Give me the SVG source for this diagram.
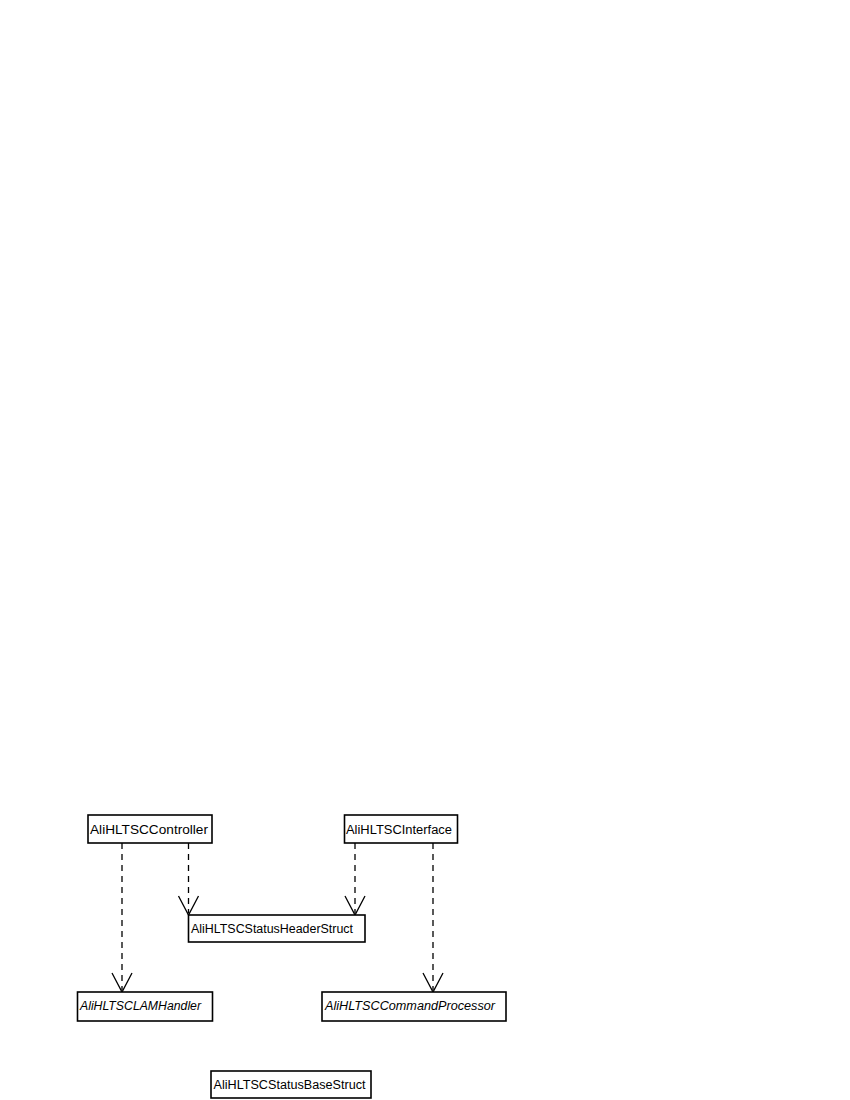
<svg xmlns="http://www.w3.org/2000/svg" width="850" height="1100" viewBox="0 0 850 1100">
<style>
.box{fill:#fff;stroke:#000;stroke-width:1.6}
.t{font-family:"Liberation Sans",Arial,sans-serif;font-size:12.5px;fill:#000}
.i{font-style:italic}
.dep{fill:none;stroke:#000;stroke-width:1.3;stroke-dasharray:6,5}
.head{fill:none;stroke:#000;stroke-width:1.3}
</style>
<rect width="850" height="1100" fill="#fff"/>
<g id="connectors">
<path class="dep" d="M122,843 V990"/>
<path class="head" d="M112,973 L122,992 L132,973"/>
<path class="dep" d="M188.5,843 V913"/>
<path class="head" d="M178.5,896 L188.5,915 L198.5,896"/>
<path class="dep" d="M355,843 V913"/>
<path class="head" d="M345,896 L355,915 L365,896"/>
<path class="dep" d="M433,843 V990"/>
<path class="head" d="M423,973 L433,992 L443,973"/>
</g>
<g id="AliHLTSCController"><rect class="box" x="88" y="815" width="124" height="28"/><text class="t" x="90" y="833.5" textLength="118" lengthAdjust="spacingAndGlyphs">AliHLTSCController</text></g>
<g id="AliHLTSCInterface"><rect class="box" x="344.5" y="815" width="113" height="28"/><text class="t" x="346" y="833.5" textLength="106" lengthAdjust="spacingAndGlyphs">AliHLTSCInterface</text></g>
<g id="AliHLTSCStatusHeaderStruct"><rect class="box" x="188.5" y="915" width="176.5" height="27"/><text class="t" x="191" y="932.5" textLength="162" lengthAdjust="spacingAndGlyphs">AliHLTSCStatusHeaderStruct</text></g>
<g id="AliHLTSCLAMHandler"><rect class="box" x="77.5" y="992" width="135" height="29"/><text class="t i" x="80" y="1009.5" textLength="121" lengthAdjust="spacingAndGlyphs">AliHLTSCLAMHandler</text></g>
<g id="AliHLTSCCommandProcessor"><rect class="box" x="322" y="992" width="184" height="29"/><text class="t i" x="325" y="1009.5" textLength="170" lengthAdjust="spacingAndGlyphs">AliHLTSCCommandProcessor</text></g>
<g id="AliHLTSCStatusBaseStruct"><rect class="box" x="211" y="1071" width="160" height="27"/><text class="t" x="213.5" y="1088.5" textLength="152" lengthAdjust="spacingAndGlyphs">AliHLTSCStatusBaseStruct</text></g>
</svg>
